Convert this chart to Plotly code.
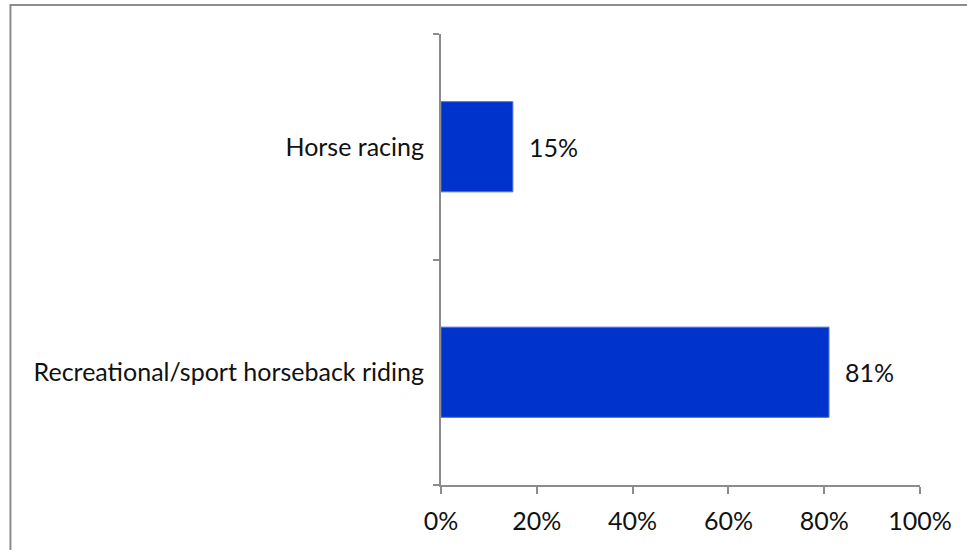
import plotly.graph_objects as go

# Share of respondents by type of equine activity
categories = ["Recreational/sport horseback riding", "Horse racing"]
shares = [81, 15]
x_ticks = [0, 20, 40, 60, 80, 100]
x_tick_labels = [f"{v}%" for v in x_ticks]

W, H = 967, 550
M_L, M_R, M_T, M_B = 441, 46.5, 33.5, 65
plot_w = W - M_L - M_R
plot_h = H - M_T - M_B

FONT = "Lato, Open Sans, sans-serif"
FONT_SIZE = 25
TEXT_COLOR = "#111111"
BAR_COLOR = "#0033CC"
AXIS_COLOR = "#8c8c8c"

fig = go.Figure(
    go.Bar(
        x=shares,
        y=categories,
        orientation="h",
        width=0.4,
        marker=dict(color=BAR_COLOR, line=dict(color="#4f6fd9", width=1)),
        hoverinfo="skip",
    )
)

# value labels to the right of each bar
for cat, val in zip(categories, shares):
    fig.add_annotation(
        x=val, y=cat, text=f"{val}%", showarrow=False,
        xanchor="left", yanchor="middle", xshift=14,
        font=dict(family=FONT, size=FONT_SIZE, color=TEXT_COLOR),
    )


def px_x(p):
    return (p - M_L) / plot_w


def px_y(p):
    return 1 - (p - M_T) / plot_h


# outer chart frame (right and bottom edges fall outside the canvas)
fig.add_shape(
    type="rect", xref="paper", yref="paper",
    x0=px_x(10), x1=px_x(1000), y0=px_y(4.5), y1=px_y(600),
    line=dict(color=AXIS_COLOR, width=2), fillcolor="rgba(0,0,0,0)",
    layer="below",
)

fig.update_layout(
    width=W, height=H,
    margin=dict(l=M_L, r=M_R, t=M_T, b=M_B, pad=0),
    paper_bgcolor="white", plot_bgcolor="white",
    showlegend=False,
    font=dict(family=FONT, size=FONT_SIZE, color=TEXT_COLOR),
    xaxis=dict(
        range=[0, 100], tickvals=x_ticks, ticktext=x_tick_labels,
        showgrid=False, zeroline=False,
        showline=True, linecolor=AXIS_COLOR, linewidth=2,
        ticks="outside", ticklen=7, tickwidth=2, tickcolor=AXIS_COLOR,
        ticklabelstandoff=6,
        tickfont=dict(family=FONT, size=FONT_SIZE, color=TEXT_COLOR),
        fixedrange=True,
    ),
    yaxis=dict(
        type="category", categoryorder="array", categoryarray=categories,
        range=[-0.5, 1.5], tickson="boundaries",
        showgrid=False, zeroline=False,
        showline=True, linecolor=AXIS_COLOR, linewidth=2,
        ticks="outside", ticklen=6, tickwidth=2, tickcolor=AXIS_COLOR,
        ticklabelstandoff=10,
        tickfont=dict(family=FONT, size=FONT_SIZE, color=TEXT_COLOR),
        fixedrange=True,
    ),
)

fig.write_html("out.html")
